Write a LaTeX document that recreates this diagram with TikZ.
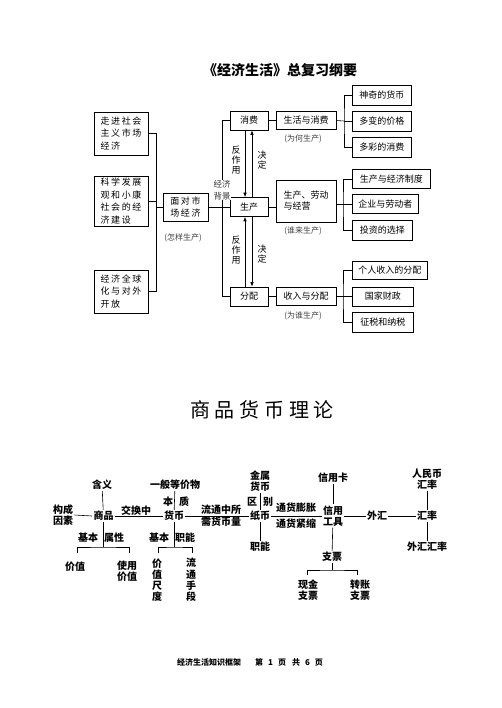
\documentclass[tikz,border=0pt]{standalone}
\usepackage{fontspec}
\setmainfont{Noto Sans CJK SC}
\newfontfamily\widecjk[LetterSpace=18]{Noto Sans CJK SC}
\newfontfamily\bigcjk[LetterSpace=24]{Noto Sans CJK SC}
\usetikzlibrary{arrows.meta}

\begin{document}
\begin{tikzpicture}[x=1pt,y=-1pt,
                    line width=0.6pt,
                    bx/.style n args={2}{draw,rectangle,inner sep=1pt,
                    minimum width=#1pt,
                    minimum height=#2pt,
                    font=\fontsize{9}{11}\selectfont},
                    wbx/.style n args={2}{bx={#1}{#2},align=left,
                    font=\widecjk\fontsize{9}{12.5}\selectfont},
                    note/.style={inner sep=0pt,text=black!75,
                    font=\fontsize{8}{9}\selectfont},
                    vt/.style={inner sep=0pt,align=center,
                    font=\fontsize{9}{10}\selectfont},
                    lb/.style={inner sep=1pt,align=center,
                    font=\bfseries\fontsize{10}{11}\selectfont},
                    arr/.style={-{Latex[length=4.5pt,width=3.5pt]}}]
    \useasboundingbox (0,0) rectangle (502,708);

    \node[font=\bfseries\fontsize{14}{16}\selectfont] (ttl) at (280,70) {《经济生活》总复习纲要};

    \node[wbx={54}{43}] (z1) at (121,133.5) {走进社会\\主义市场\\经济};
    \node[wbx={54}{50}] (z2) at (121,201) {科学发展\\观和小康\\社会的经\\济建设};
    \node[wbx={54}{43}] (z3) at (121,291.5) {经济全球\\化与对外\\开放};
    \node[wbx={45}{28}] (mf) at (185.5,207) {面对市\\场经济};
    \node[note] at (183,238) {(怎样生产)};
    \coordinate (k1) at (156,207);
    \draw (z1.east) -| (k1);
    \draw (z3.east) -| (k1);
    \draw (z2.east) -- (z2.east -| k1);
    \draw (k1) -- (mf.west);

    \node[bx={38}{19}] (xf) at (249,120.5) {消费};
    \node[bx={38}{19}] (sc) at (249,207) {生产};
    \node[bx={38}{19}] (fp) at (249,296.5) {分配};
    \draw (mf.east) -- (sc.west);
    \draw (xf.west) -- ++(-7,0) |- (fp.west);
    \node[vt,fill=white,text=black!80,font=\fontsize{8.5}{12}\selectfont] at (222,190) {经济\\背景};

    \draw[arr] ([xshift=-4pt]xf.south) -- ([xshift=-4pt]sc.north);
    \draw[arr] ([xshift=3pt]sc.north) -- ([xshift=3pt]xf.south);
    \draw[arr] ([xshift=-4pt]fp.north) -- ([xshift=-4pt]sc.south);
    \draw[arr] ([xshift=3pt]sc.south) -- ([xshift=3pt]fp.north);
    \node[vt] at (236,160) {反\\作\\用};
    \node[vt] at (262,160) {决\\定};
    \node[vt] at (236,250) {反\\作\\用};
    \node[vt] at (262,254) {决\\定};

    \node[bx={60}{18}] (m1) at (306,120.5) {生活与消费};
    \node[note] at (303,139) {(为何生产)};
    \node[bx={60}{42},align=left] (m2) at (306,201) {生产、劳动\\与经营};
    \node[note] at (303,231) {(谁来生产)};
    \node[bx={60}{18}] (m3) at (306,296.5) {收入与分配};
    \node[note] at (303,316) {(为谁生产)};
    \draw (xf.east) -- (m1.west);
    \draw (sc.east) -- (sc.east -| m2.west);
    \draw (fp.east) -- (m3.west);

    \node[bx={59}{20},anchor=west] (r11) at (352,95) {神奇的货币};
    \node[bx={59}{20},anchor=west] (r12) at (352,121) {多变的价格};
    \node[bx={59}{20},anchor=west] (r13) at (352,147.5) {多彩的消费};
    \node[bx={78}{19},anchor=west] (r21) at (352,179) {生产与经济制度};
    \node[bx={66}{19},anchor=west] (r22) at (352,204) {企业与劳动者};
    \node[bx={60}{20},anchor=west] (r23) at (352,230) {投资的选择};
    \node[bx={75}{18},anchor=west] (r31) at (352,270.5) {个人收入的分配};
    \node[bx={61}{19},anchor=west] (r32) at (352,296.5) {国家财政};
    \node[bx={61}{20},anchor=west] (r33) at (352,322) {征税和纳税};

    \coordinate (k2) at (344,121);
    \coordinate (k3) at (343,204);
    \coordinate (k4) at (343,296.5);
    \draw (m1.east) -- (k2);
    \draw (r11.west) -| (k2) |- (r13.west);
    \draw (k2) -- (r12.west);
    \draw (m2.east |- k3) -- (k3);
    \draw (r21.west) -| (k3) |- (r23.west);
    \draw (k3) -- (r22.west);
    \draw (m3.east) -- (k4);
    \draw (r31.west) -| (k4) |- (r33.west);
    \draw (k4) -- (r32.west);

    \node[font=\bigcjk\fontsize{20}{22}\selectfont] (lt) at (262,410) {商品货币理论};

    \node[lb] (hy) at (102,485) {含义};
    \node[lb] (sp) at (103.5,516) {商品};
    \node[lb] (gc) at (63,515) {构成\\因素};
    \node[lb] (hb) at (174,516) {货币};
    \node[lb,anchor=south] (jh) at (136,517) {交换中};
    \node[lb] (yb) at (175,485) {一般等价物};
    \node[lb] (bn) at (168,502) {本};
    \node[lb] (zh) at (184,502) {质};
    \node[lb] (lt1) at (221,509.5) {流通中所};
    \node[lb] (lt2) at (221,522) {需货币量};
    \node[lb] (js) at (260,481.5) {金属\\货币};
    \node[lb] (qu) at (252,502) {区};
    \node[lb] (bi) at (268,502) {别};
    \node[lb] (zb) at (260,516) {纸币};
    \node[lb] (zn) at (260,547) {职能};
    \node[lb] (tz) at (296,508) {通货膨胀};
    \node[lb] (tj) at (296,524) {通货紧缩};
    \node[lb] (xk) at (333,478) {信用卡};
    \node[lb] (xy) at (333,516) {信用\\工具};
    \node[lb] (wh) at (377,516) {外汇};
    \node[lb] (hl) at (427,516) {汇率};
    \node[lb] (rm) at (427,479) {人民币\\汇率};
    \node[lb] (wl) at (427,547) {外汇汇率};
    \node[lb] (zp) at (332,557) {支票};
    \node[lb] (xj) at (308,590) {现金\\支票};
    \node[lb] (zz) at (360,590) {转账\\支票};

    \node[lb] at (88,538) {基本};
    \node[lb] at (114,538) {属性};
    \node[lb] (jz) at (75,567) {价值};
    \node[lb] (sy) at (127,571) {使用\\价值};
    \node[lb] at (159,538) {基本};
    \node[lb] at (185,538) {职能};
    \node[lb,font=\bfseries\fontsize{10}{11.2}\selectfont] (cd) at (157,580) {价\\值\\尺\\度};
    \node[lb,font=\bfseries\fontsize{10}{11.2}\selectfont] (ls) at (191,580) {流\\通\\手\\段};

    \draw (hy) -- (sp);
    \draw (gc.east) -- (sp.west);
    \draw (sp.east) -- (hb.west);
    \draw (yb) -- (hb);
    \draw (hb.east) -- (zb.west);
    \draw (js) -- (zb);
    \draw (zb) -- (zn);
    \draw (zb.east) -- (xy.west);
    \draw (xk) -- (xy);
    \draw (xy.east) -- (wh.west);
    \draw (wh.east) -- (hl.west);
    \draw (rm) -- (hl);
    \draw (hl) -- (wl);
    \draw (xy) -- (zp);

    \coordinate (s0) at (103.5,547);
    \coordinate (s1) at (77,553);
    \coordinate (s2) at (129,553);
    \draw (sp.south) -- (s0);
    \draw (s1) |- (s0) -| (s2);
    \coordinate (h0) at (174,547);
    \coordinate (h1) at (158,553);
    \coordinate (h2) at (192,553);
    \draw (hb.south) -- (h0);
    \draw (h1) |- (h0) -| (h2);
    \coordinate (p0) at (332,570);
    \coordinate (p1) at (307,575);
    \coordinate (p2) at (357,575);
    \draw (zp.south) -- (p0);
    \draw (p1) |- (p0) -| (p2);

    \node[font=\bfseries\fontsize{8}{9}\selectfont] (ft) at (250,662) {经济生活知识框架\hspace{14pt}第\hspace{5pt}1\hspace{5pt}页\hspace{6pt}共\hspace{5pt}6\hspace{5pt}页};
\end{tikzpicture}
\end{document}
